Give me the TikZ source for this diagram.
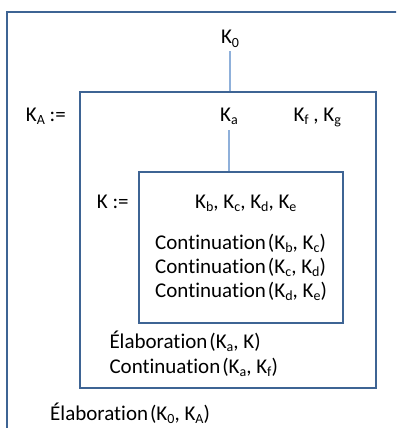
\documentclass[tikz,border=0pt]{standalone}
\usepackage{fontspec}
\setmainfont{Carlito}[Ligatures={NoCommon}]
\newcommand{\ksb}[1]{\raisebox{-3.2pt}{\fontsize{14}{14}\selectfont #1}}
\newcommand{\pgap}{\kern2pt}
\definecolor{boxblue}{HTML}{3E6494}
\definecolor{linkblue}{HTML}{8FB0DA}
\begin{document}
\begin{tikzpicture}[x=1pt,y=-1pt,
  txt/.style={inner sep=0pt, font=\fontsize{21}{24}\selectfont},
  frame/.style={draw=boxblue, line width=2pt, inner sep=0pt},
  link/.style={draw=linkblue, line width=1.2pt}]
\useasboundingbox (0,0) rectangle (396,428);
\clip (0,0) rectangle (396,428);
% outer box (extends beyond the picture)
\draw[boxblue, line width=2pt] (7,440) -- (7,12.5) -- (410,12.5);
% middle and inner boxes
\node[frame, minimum width=296pt, minimum height=296pt] (mid) at (228,239.7) {};
\node[frame, minimum width=204.6pt, minimum height=151.6pt] (inner) at (241,247.5) {};
% texts
\node[txt, anchor=base, outer sep=4pt] (k0) at (230,44) {K\ksb{0}};
\node[txt, anchor=base west] (kA) at (25.7,121.7) {K\ksb{A} :=};
\node[txt, anchor=base, outer sep=5pt] (ka) at (229,121.7) {K\ksb{a}};
\node[txt, anchor=base west] (kfg) at (293.3,121.7) {K\ksb{f} , K\ksb{g}};
\node[txt, anchor=base west] (kdef) at (96.7,208.3) {K :=};
\node[txt, anchor=base west] (kbe) at (195,208.3) {K\ksb{b}, K\ksb{c}, K\ksb{d}, K\ksb{e}};
\node[txt, anchor=base west] (c1) at (155,249) {Continuation\pgap(K\ksb{b}, K\ksb{c})};
\node[txt, anchor=base west] (c2) at (155,273) {Continuation\pgap(K\ksb{c}, K\ksb{d})};
\node[txt, anchor=base west] (c3) at (155,297) {Continuation\pgap(K\ksb{d}, K\ksb{e})};
\node[txt, anchor=base west] (e1) at (109.3,348.3) {Élaboration\pgap(K\ksb{a}, K)};
\node[txt, anchor=base west] (c4) at (109.3,373) {Continuation\pgap(K\ksb{a}, K\ksb{f})};
\node[txt, anchor=base west] (e0) at (50,420) {Élaboration\pgap(K\ksb{0}, K\ksb{A})};
% connectors
\draw[link] (k0.south) -- (k0.south |- mid.north);
\draw[link] (ka.south) -- (ka.south |- inner.north);
\end{tikzpicture}
\end{document}
